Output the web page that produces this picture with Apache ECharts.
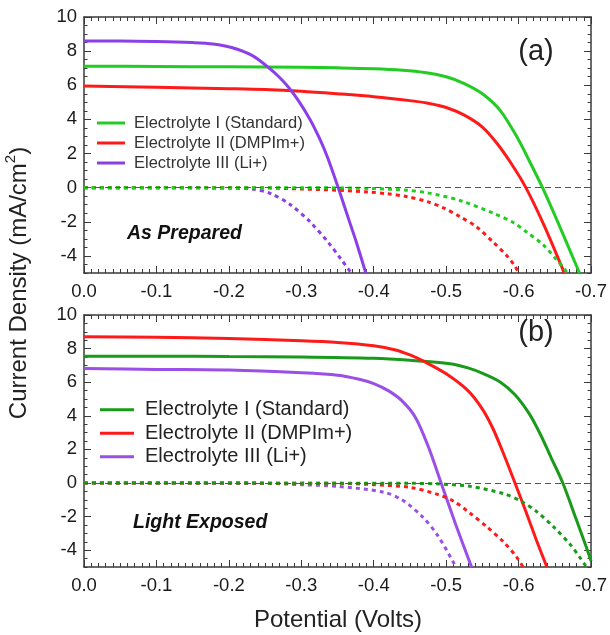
<!DOCTYPE html>
<html><head><meta charset="utf-8">
<script src="https://cdn.jsdelivr.net/npm/echarts@6/dist/echarts.min.js"></script>
<style>html,body{margin:0;padding:0;background:#fff}#c{width:610px;height:635px}</style>
</head><body><div id="c"></div>
<script>
// ---- Data (Potential in V, current density in mA/cm2) ----
const xTicks = [0, -0.1, -0.2, -0.3, -0.4, -0.5, -0.6, -0.7];
const yTickLabels = [-4, -2, 0, 2, 4, 6, 8, 10];
const seriesNames = ['Electrolyte I (Standard)', 'Electrolyte II (DMPIm+)', 'Electrolyte III (Li+)'];

// Panel (a) As Prepared - light curves
const aStd = [[0,7.12],[-0.1,7.1],[-0.2,7.08],[-0.3,7.05],[-0.35,7.02],[-0.4,6.97],[-0.44,6.88],[-0.47,6.75],[-0.5,6.5],[-0.525,6.1],[-0.55,5.5],[-0.575,4.5],[-0.6,2.8],[-0.615,1.55],[-0.633,0],[-0.659,-2.5],[-0.684,-5]];
const aDmp = [[0,5.95],[-0.1,5.88],[-0.2,5.8],[-0.25,5.75],[-0.3,5.65],[-0.35,5.5],[-0.4,5.33],[-0.45,5.1],[-0.475,4.95],[-0.5,4.7],[-0.525,4.25],[-0.55,3.55],[-0.57,2.6],[-0.59,1.4],[-0.61,0],[-0.635,-2.2],[-0.663,-5]];
const aLi  = [[0,8.6],[-0.05,8.6],[-0.1,8.57],[-0.15,8.5],[-0.178,8.42],[-0.205,8.2],[-0.232,7.75],[-0.253,7.1],[-0.269,6.5],[-0.282,5.9],[-0.296,5.1],[-0.312,4.0],[-0.325,2.9],[-0.336,1.8],[-0.351,0],[-0.365,-1.8],[-0.376,-3.2],[-0.389,-5]];
// Panel (a) dark curves
const aStdDark = [[0,0],[-0.3,0],[-0.4,-0.05],[-0.445,-0.15],[-0.474,-0.3],[-0.519,-0.75],[-0.565,-1.5],[-0.593,-2.05],[-0.611,-2.6],[-0.634,-3.35],[-0.652,-4.2],[-0.664,-4.8],[-0.667,-5]];
const aDmpDark = [[0,0],[-0.25,-0.02],[-0.3,-0.08],[-0.35,-0.15],[-0.392,-0.25],[-0.419,-0.36],[-0.445,-0.52],[-0.474,-0.82],[-0.497,-1.2],[-0.519,-1.7],[-0.542,-2.3],[-0.565,-3.2],[-0.584,-4.0],[-0.595,-4.6],[-0.6,-5]];
const aLiDark  = [[0,0],[-0.2,-0.02],[-0.232,-0.08],[-0.258,-0.35],[-0.285,-1.0],[-0.312,-2.0],[-0.338,-3.25],[-0.355,-4.2],[-0.369,-5]];

// Panel (b) Light Exposed - light curves
const bStd = [[0,7.55],[-0.1,7.55],[-0.2,7.53],[-0.3,7.5],[-0.4,7.42],[-0.45,7.3],[-0.505,7.1],[-0.53,6.85],[-0.552,6.5],[-0.575,6.0],[-0.595,5.25],[-0.615,4.1],[-0.63,2.9],[-0.645,1.5],[-0.661,0],[-0.679,-2.1],[-0.695,-4.0],[-0.7,-4.65]];
const bDmp = [[0,8.7],[-0.1,8.67],[-0.2,8.6],[-0.3,8.47],[-0.35,8.37],[-0.4,8.17],[-0.43,7.92],[-0.45,7.62],[-0.47,7.22],[-0.5,6.5],[-0.53,5.5],[-0.55,4.4],[-0.565,3.2],[-0.58,1.65],[-0.595,0],[-0.61,-1.7],[-0.625,-3.45],[-0.639,-5]];
const bLi  = [[0,6.82],[-0.1,6.76],[-0.2,6.72],[-0.3,6.56],[-0.35,6.42],[-0.38,6.18],[-0.4,5.92],[-0.42,5.5],[-0.438,4.93],[-0.457,3.94],[-0.475,2.2],[-0.493,0],[-0.513,-2.45],[-0.535,-5]];
// Panel (b) dark curves
const bStdDark = [[0,0],[-0.45,-0.02],[-0.488,-0.05],[-0.533,-0.2],[-0.579,-0.63],[-0.604,-1.1],[-0.625,-1.7],[-0.648,-2.6],[-0.672,-3.7],[-0.684,-4.4],[-0.692,-4.9],[-0.694,-5]];
const bDmpDark = [[0,0],[-0.35,-0.02],[-0.4,-0.1],[-0.45,-0.26],[-0.488,-0.68],[-0.511,-1.1],[-0.533,-1.8],[-0.556,-2.6],[-0.579,-3.5],[-0.597,-4.4],[-0.606,-5]];
const bLiDark  = [[0,0],[-0.25,-0.02],[-0.3,-0.1],[-0.35,-0.2],[-0.414,-0.55],[-0.44,-1.03],[-0.467,-2.0],[-0.488,-3.1],[-0.511,-4.8],[-0.513,-5]];

// ---- Styling ----
const FONT = 'Liberation Sans, Arial, sans-serif';
const colA = ['#22cc22', '#ff1a1a', '#8b3fe8'];
const colB = ['#1a9a1a', '#ff1a1a', '#9a4fe6'];
const frame = {show: true, onZero: false, lineStyle: {color: '#3a3a3a', width: 1.5}};

function xAxes(gi) {
  const base = {
    type: 'value', gridIndex: gi, min: -0.7, max: 0, interval: 0.1, inverse: true,
    axisLine: frame, splitLine: {show: false},
    axisTick: {show: true, inside: true, length: 7, lineStyle: {color: '#3a3a3a'}},
    minorTick: {show: true, splitNumber: 10, length: 4, lineStyle: {color: '#3a3a3a'}},
  };
  return [
    Object.assign({}, base, {position: 'bottom',
      axisLabel: {show: true, fontSize: 18.5, fontFamily: FONT, color: '#1a1a1a', margin: 9,
        formatter: v => (Math.abs(v) < 1e-9 ? 0 : v).toFixed(1)}}),
    Object.assign({}, base, {position: 'top', axisLabel: {show: false}})
  ];
}
function yAxes(gi) {
  const res = [];
  ['left', 'right'].forEach(pos => {
    res.push({
      type: 'value', gridIndex: gi, position: pos, min: -5, max: 10, interval: 0.5,
      axisLine: frame, splitLine: {show: false},
      axisTick: {show: true, inside: true, length: 3.5, lineStyle: {color: '#3a3a3a'}},
      axisLabel: pos === 'left'
        ? {show: true, customValues: yTickLabels, fontSize: 18.5, fontFamily: FONT, color: '#1a1a1a', margin: 7}
        : {show: false}
    });
    res.push({
      type: 'value', gridIndex: gi, position: pos, min: -5, max: 10,
      axisLine: {show: false, onZero: false}, splitLine: {show: false}, axisLabel: {show: false},
      axisTick: {show: true, inside: true, length: 7, customValues: yTickLabels, lineStyle: {color: '#3a3a3a'}}
    });
  });
  return res;
}

function solid(name, data, color, xi, yi, extra) {
  return Object.assign({
    type: 'line', name: name, data: data, xAxisIndex: xi, yAxisIndex: yi,
    symbol: 'none', smooth: 0.3, lineStyle: {color: color, width: 3}, itemStyle: {color: color},
    z: 3, silent: true
  }, extra || {});
}
function dotted(data, color, xi, yi) {
  return {
    type: 'line', data: data, xAxisIndex: xi, yAxisIndex: yi,
    symbol: 'none', smooth: 0.3, lineStyle: {color: color, width: 3, type: [4, 4]}, itemStyle: {color: color},
    z: 4, silent: true
  };
}
const zeroLine = {
  silent: true, symbol: 'none', label: {show: false},
  lineStyle: {color: '#555', width: 1, type: [6, 4]},
  data: [{yAxis: 0}]
};

const bNames = seriesNames.map(n => 'b:' + n);

const option = {
  animation: false,
  backgroundColor: '#fff',
  grid: [
    {left: 84, right: 15, top: 17, height: 256},
    {left: 84, right: 15, top: 315, height: 252}
  ],
  xAxis: xAxes(0).concat(xAxes(1)),
  yAxis: yAxes(0).concat(yAxes(1)),
  legend: [
    {data: seriesNames, orient: 'vertical', left: 92, top: 108, icon: 'rect', itemWidth: 28, itemHeight: 3,
     itemGap: 0, selectedMode: false,
     textStyle: {fontSize: 16.5, fontFamily: FONT, color: '#333', lineHeight: 20, padding: [0, 0, 0, 4]}},
    {data: bNames, orient: 'vertical', left: 95, top: 393, icon: 'rect', itemWidth: 34, itemHeight: 3,
     itemGap: 0, selectedMode: false, formatter: n => n.replace(/^b:/, ''),
     textStyle: {fontSize: 20, fontFamily: FONT, color: '#222', lineHeight: 23.5, padding: [0, 0, 0, 6]}}
  ],
  series: [
    solid(seriesNames[0], aStd, colA[0], 0, 0, {markLine: zeroLine}),
    solid(seriesNames[1], aDmp, colA[1], 0, 0),
    solid(seriesNames[2], aLi, colA[2], 0, 0),
    dotted(aLiDark, colA[2], 0, 0),
    dotted(aDmpDark, colA[1], 0, 0),
    dotted(aStdDark, colA[0], 0, 0),
    solid(bNames[0], bStd, colB[0], 2, 4, {markLine: zeroLine}),
    solid(bNames[1], bDmp, colB[1], 2, 4),
    solid(bNames[2], bLi, colB[2], 2, 4),
    dotted(bLiDark, colB[2], 2, 4),
    dotted(bDmpDark, colB[1], 2, 4),
    dotted(bStdDark, colB[0], 2, 4)
  ],
  graphic: [
    {type: 'text', x: 536, y: 52, style: {text: '(a)', font: '29px ' + FONT, fill: '#222', align: 'center', verticalAlign: 'middle'}},
    {type: 'text', x: 536, y: 333, style: {text: '(b)', font: '29px ' + FONT, fill: '#222', align: 'center', verticalAlign: 'middle'}},
    {type: 'text', x: 127, y: 234, style: {text: 'As Prepared', font: 'italic bold 19.5px ' + FONT, fill: '#111', align: 'left', verticalAlign: 'middle'}},
    {type: 'text', x: 133, y: 523, style: {text: 'Light Exposed', font: 'italic bold 19.5px ' + FONT, fill: '#111', align: 'left', verticalAlign: 'middle'}},
    {type: 'text', x: 338, y: 620, style: {text: 'Potential (Volts)', font: '24px ' + FONT, fill: '#222', align: 'center', verticalAlign: 'middle'}},
    {type: 'text', x: 19, y: 283, rotation: Math.PI / 2,
     style: {text: '{a|Current Density (mA/cm}{s|2}{a|)}', align: 'center', verticalAlign: 'middle',
       rich: {a: {fontSize: 24, fontFamily: FONT, fill: '#222', color: '#222', lineHeight: 32},
              s: {fontSize: 15, fontFamily: FONT, fill: '#222', color: '#222', lineHeight: 15, verticalAlign: 'top'}}}}
  ]
};
const chart = echarts.init(document.getElementById('c'), null, {renderer: 'canvas'});
chart.setOption(option);
</script>
</body></html>
